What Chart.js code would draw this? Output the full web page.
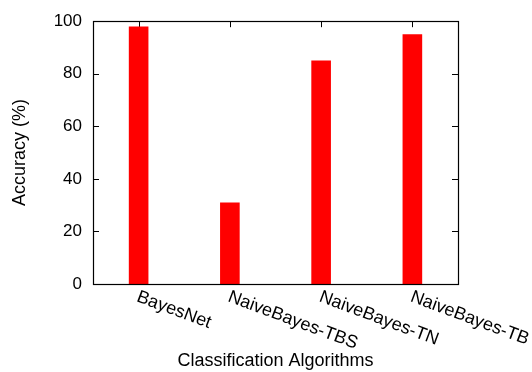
<!DOCTYPE html>
<html>
<head>
<meta charset="utf-8">
<script src="https://cdn.jsdelivr.net/npm/chart.js@4/dist/chart.umd.min.js"></script>
<style>
  html, body { margin: 0; padding: 0; background: #fff; }
  #wrap { width: 532px; height: 372px; position: relative; }
</style>
</head>
<body>
<div id="wrap"><canvas id="chart"></canvas></div>
<script>
// Values
const categories = ['BayesNet', 'NaiveBayes-TBS', 'NaiveBayes-TN', 'NaiveBayes-TB'];
const accuracy = [98, 31, 85, 95];
const yTicks = [0, 20, 40, 60, 80, 100];

const FONT = '"Liberation Sans", Arial, Helvetica, sans-serif';

// gnuplot-like frame, inward ticks and slanted category labels
const gnuplotFrame = {
    id: 'gnuplotFrame',
    beforeDatasetsDraw(chart) {
        const { ctx, chartArea: a, scales: { x, y } } = chart;
        const len = 6;
        ctx.save();
        ctx.strokeStyle = '#000';
        ctx.lineWidth = 1;
        ctx.beginPath();
        y.ticks.forEach((t, i) => {
            const py = Math.round(y.getPixelForTick(i)) + 0.5;
            ctx.moveTo(a.left, py); ctx.lineTo(a.left + len, py);
            ctx.moveTo(a.right, py); ctx.lineTo(a.right - len, py);
        });
        x.ticks.forEach((t, i) => {
            const px = Math.round(x.getPixelForTick(i)) + 0.5;
            ctx.moveTo(px, a.top); ctx.lineTo(px, a.top + len);
            ctx.moveTo(px, a.bottom); ctx.lineTo(px, a.bottom - len);
        });
        ctx.stroke();
        ctx.restore();
    },
    afterDraw(chart) {
        const { ctx, chartArea: a, scales: { x } } = chart;
        ctx.save();
        ctx.strokeStyle = '#000';
        ctx.lineWidth = 1.2;
        ctx.strokeRect(Math.round(a.left) + 0.5, Math.round(a.top) + 0.5,
            Math.round(a.right - a.left), Math.round(a.bottom - a.top));

        // category labels rotated clockwise, starting at the tick
        ctx.font = '18px ' + FONT;
        ctx.fillStyle = '#000';
        ctx.textAlign = 'left';
        ctx.textBaseline = 'alphabetic';
        categories.forEach((label, i) => {
            ctx.save();
            ctx.translate(x.getPixelForTick(i) - 3, a.bottom + 17);
            ctx.rotate(20.5 * Math.PI / 180);
            ctx.fillText(label, 0, 0);
            ctx.restore();
        });
        ctx.restore();
    }
};

new Chart(document.getElementById('chart'), {
    type: 'bar',
    data: {
        labels: categories,
        datasets: [{
            label: 'Accuracy',
            data: accuracy,
            backgroundColor: '#ff0000',
            borderWidth: 0,
            barPercentage: 0.215,
            categoryPercentage: 1.0
        }]
    },
    options: {
        responsive: true,
        maintainAspectRatio: false,
        animation: false,
        layout: { padding: { top: 18, right: 74, bottom: 0, left: 0 } },
        plugins: {
            legend: { display: false },
            tooltip: { enabled: false }
        },
        scales: {
            x: {
                offset: true,
                grid: { display: false, drawTicks: false },
                border: { display: false },
                ticks: { display: false },
                title: {
                    display: true,
                    text: 'Classification Algorithms',
                    color: '#000',
                    font: { family: FONT, size: 18 },
                    padding: { top: 0, bottom: 0 }
                },
                afterFit: scale => { scale.height = 88; }
            },
            y: {
                min: 0,
                max: 100,
                afterBuildTicks: scale => {
                    scale.ticks = yTicks.map(v => ({ value: v }));
                },
                grid: { display: false, drawTicks: false },
                border: { display: false },
                ticks: {
                    color: '#000',
                    padding: 11,
                    font: { family: FONT, size: 17 }
                },
                title: {
                    display: true,
                    text: 'Accuracy (%)',
                    color: '#000',
                    font: { family: FONT, size: 18 },
                    padding: { top: 9, bottom: 0 }
                },
                afterFit: scale => { scale.width = 93; }
            }
        }
    },
    plugins: [gnuplotFrame]
});
</script>
</body>
</html>
